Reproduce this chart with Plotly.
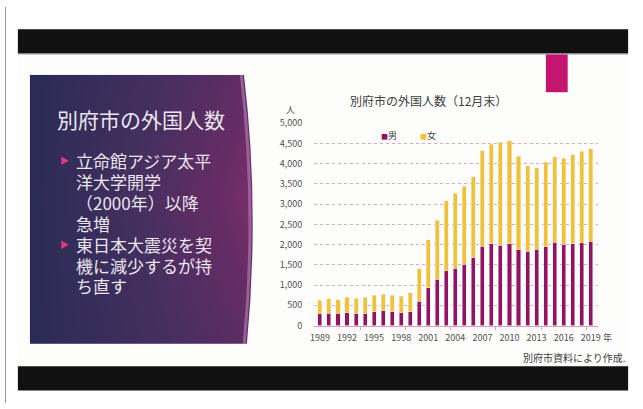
import numpy as np
import plotly.graph_objects as go

# ---- data ----
years = list(range(1989, 2020))
male = [290, 304, 304, 312, 304, 304, 336, 360, 344, 320, 344, 600, 936, 1144, 1352, 1416,
        1512, 1680, 1960, 2016, 1984, 2024, 1888, 1840, 1888, 1944, 2056, 2008, 2016, 2040, 2088]
total = [620, 656, 640, 696, 680, 696, 752, 776, 744, 720, 816, 1400, 2120, 2600, 3080, 3272,
         3440, 3680, 4320, 4480, 4528, 4560, 4184, 3952, 3904, 4040, 4168, 4136, 4224, 4304, 4368]
female = [t - m for t, m in zip(total, male)]
tick_years = years[::3]
tick_labels = [str(y) for y in tick_years]
y_ticks = list(range(0, 5001, 500))

W, H = 643, 409
def X(p): return p / W
def Y(p): return 1 - p / H

MALE_C = '#961260'
FEMALE_C = '#f2c230'
JP = 'Noto Sans CJK JP'

fig = go.Figure()

# background gradient panel (left slide box)
nx, ny = 60, 40
xs = np.linspace(0, 1, nx)
ys = np.linspace(0, 1, ny)
XX, YY = np.meshgrid(xs, ys)
Z = XX * (0.78 + 0.22 * (1 - np.abs(YY - 0.55) * 2))
fig.add_trace(go.Heatmap(x=xs, y=ys, z=Z, xaxis='x2', yaxis='y2', zsmooth='best',
                         showscale=False, hoverinfo='skip',
                         colorscale=[[0, '#2a2b55'], [0.45, '#442f5f'], [0.8, '#642c64'], [1, '#7a2f6c']]))

fig.add_trace(go.Bar(x=years, y=male, name='男', marker_color=MALE_C, width=0.45))
fig.add_trace(go.Bar(x=years, y=female, name='女', marker_color=FEMALE_C, width=0.45))

shapes = []
# slide bg
shapes.append(dict(type='rect', xref='paper', yref='paper', x0=X(14), x1=X(630), y0=Y(371), y1=Y(48),
                   fillcolor='#fdfdfb', line_width=0, layer='below'))
# black bands
for a, b in [(23, 48), (371, 396)]:
    shapes.append(dict(type='rect', xref='paper', yref='paper', x0=X(14), x1=X(630), y0=Y(b), y1=Y(a),
                       fillcolor='#111111', line_width=0, layer='below'))
shapes.append(dict(type='line', xref='paper', yref='paper', x0=X(14), x1=X(630), y0=Y(48.5), y1=Y(48.5),
                   line=dict(color='#8a8a8a', width=1), layer='below'))
# left frame line
shapes.append(dict(type='line', xref='paper', yref='paper', x0=X(1.5), x1=X(1.5), y0=0, y1=1,
                   line=dict(color='#9a9a9a', width=1), layer='below'))
# magenta accent
shapes.append(dict(type='rect', xref='paper', yref='paper', x0=X(547), x1=X(569), y0=Y(88), y1=Y(49),
                   fillcolor='#c41670', line_width=0, layer='below'))

def P(x, y):
    return f"{X(x):.5f},{Y(y):.5f}"

# cut curved right edge of panel
path = (f"M {P(242,68)} Q {P(258.5,209)} {P(245,350)} L {P(262,350)} L {P(262,68)} Z")
shapes.append(dict(type='path', xref='paper', yref='paper', path=path, fillcolor='#fdfdfb',
                   line_width=0, layer='above'))
# sheen along edge
path2 = f"M {P(239.5,70)} Q {P(255.5,209)} {P(242.5,348)}"
shapes.append(dict(type='path', xref='paper', yref='paper', path=path2,
                   line=dict(color='rgba(190,140,190,0.55)', width=3), layer='above'))

ann = []
def add(text, x, y, size, color, xanchor='left', yanchor='middle', align='left'):
    ann.append(dict(text=text, x=X(x), y=Y(y), xref='paper', yref='paper', showarrow=False,
                    xanchor=xanchor, yanchor=yanchor, align=align,
                    font=dict(family=JP, size=size, color=color)))

TXT = '#ebe6ee'
add('別府市の外国人数', 51, 116, 21, TXT)
lines = [('立命館アジア太平', 159), ('洋大学開学', 180.5), ('（2000年）以降', 202), ('急増', 223.5),
         ('東日本大震災を契', 245), ('機に減少するが持', 266.5), ('ち直す', 288)]
for t, yy in lines:
    add(t, 71, yy, 17, TXT)
for yy in (159, 245):
    add('▶', 55, yy, 9, '#dd3a7e')

add('別府市の外国人数（12月末）', 428, 97, 12, '#404040', xanchor='center')
add('人', 289, 106, 9, '#505050', xanchor='center')
add(f"<span style='color:{MALE_C};font-size:7px'>■</span>男", 379, 133, 9, '#404040')
add(f"<span style='color:{FEMALE_C};font-size:7px'>■</span>女", 418, 133, 9, '#404040')
add('年', 603, 341, 9, '#505050')
add('別府市資料により作成.', 630, 362, 10, '#404040', xanchor='right')

fig.update_layout(
    width=W, height=H, margin=dict(l=0, r=0, t=0, b=0),
    paper_bgcolor='white', plot_bgcolor='rgba(0,0,0,0)',
    barmode='stack', showlegend=False,
    shapes=shapes, annotations=ann,
    font=dict(family=JP, color='#505050'),
    xaxis=dict(domain=[X(313), X(600)], range=[1988.35, 2019.85],
               tickmode='array', tickvals=tick_years, ticktext=tick_labels,
               tickfont=dict(size=9, color='#505050'),
               showgrid=False, zeroline=False, showline=True, linecolor='#dc9ec0', linewidth=1,
               ticks='outside', ticklen=4, tickcolor='rgba(0,0,0,0)',
               minor=dict(tickmode='array', tickvals=[1993.5, 1998.5, 2003.5, 2008.5, 2013.5, 2018.5],
                          ticks='outside', ticklen=3, tickcolor='#dc9ec0', showgrid=False)),
    yaxis=dict(domain=[Y(329), Y(120)], range=[0, 5000],
               tickmode='array', tickvals=y_ticks, tickformat=',',
               tickfont=dict(size=9, color='#505050'),
               showgrid=True, gridcolor='#e2a6c4', griddash='dot', gridwidth=1,
               zeroline=False, showline=False,
               ticks='outside', ticklen=9, tickcolor='rgba(0,0,0,0)'),
    xaxis2=dict(domain=[X(26), X(256)], range=[0, 1], visible=False),
    yaxis2=dict(domain=[Y(348), Y(70)], range=[0, 1], visible=False),
)

fig.write_html('out.html', config={'displayModeBar': False},
               post_script="document.body.style.margin='0';document.body.style.overflow='hidden';")
